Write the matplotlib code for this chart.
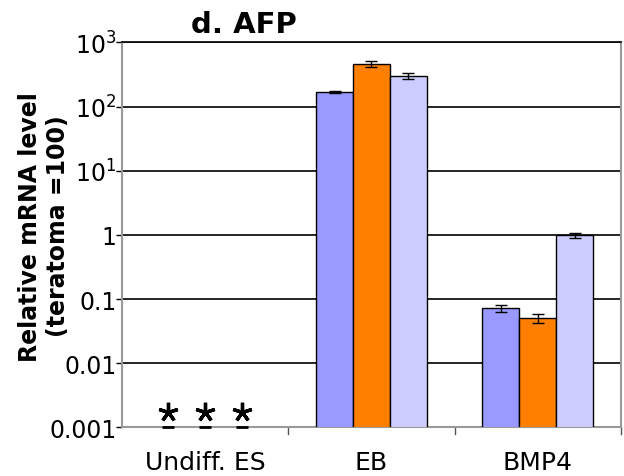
import numpy as np
import matplotlib
matplotlib.use("Agg")
import matplotlib.pyplot as plt

categories = ["Undiff. ES", "EB", "BMP4"]
series_names = ["s1", "s2", "s3"]
values_s1 = [np.nan, 167, 0.072]
values_s2 = [np.nan, 457, 0.051]
values_s3 = [np.nan, 303, 0.98]
errors_s1 = [0, 6, 0.01]
errors_s2 = [0, 50, 0.008]
errors_s3 = [0, 30, 0.1]
not_detected = [True, False, False]
colors = ["#9999FF", "#FF8000", "#CCCCFF"]
ytick_vals = [0.001, 0.01, 0.1, 1, 10, 100, 1000]
ytick_labels = ["0.001", "0.01", "0.1", "1", "$10^1$", "$10^2$", "$10^3$"]

plt.rcParams['font.family'] = ['DejaVu Sans']
plt.rcParams['mathtext.fontset'] = 'dejavusans'
fig = plt.figure(figsize=(6.24, 4.77), dpi=100)
ax = fig.add_axes([0.1955, 0.102, 0.7995, 0.807])

x = np.arange(len(categories))
w = 0.222
vals = [values_s1, values_s2, values_s3]
errs = [errors_s1, errors_s2, errors_s3]
for i in range(3):
    xi = x + (i - 1) * w
    ax.bar(xi, vals[i], width=w, color=colors[i], edgecolor="black", linewidth=1.0, zorder=3)
    ax.errorbar(xi, vals[i], yerr=errs[i], fmt="none", ecolor="black", elinewidth=1.0,
                capsize=4, capthick=1.0, zorder=4)
    for j, nd in enumerate(not_detected):
        if nd:
            ax.plot([xi[j]], [0.001 * 10**0.24], marker=(5, 2, 0), markersize=14,
                    color="black", markeredgewidth=2.4, linestyle="none", zorder=5)
            ax.plot([xi[j]], [0.001], marker="_", markersize=9, color="black",
                    markeredgewidth=2, zorder=5, clip_on=False)

ax.set_yscale("log")
ax.set_ylim(0.001, 1000)
ax.set_xlim(-0.5, 2.5)
ax.set_yticks(ytick_vals)
ax.set_yticklabels(ytick_labels, fontsize=17)
ax.yaxis.set_minor_locator(matplotlib.ticker.NullLocator())
ax.tick_params(axis="y", length=4, width=1, color="black", pad=0)
ax.set_xticks(x)
ax.set_xticklabels(categories, fontsize=18)
ax.tick_params(axis="x", length=0, pad=16)
for b in [0.5, 1.5, 2.5]:
    ax.plot([b, b], [0.001, 0.001 * 10**-0.1], color="#555555", lw=1, clip_on=False)
ax.grid(axis="y", color="black", linewidth=1.2, zorder=1)
for s in ["left", "right", "bottom"]:
    ax.spines[s].set_color("#999999")
    ax.spines[s].set_linewidth(1.5)
ax.spines["top"].set_color("black")
ax.spines["top"].set_linewidth(1.2)

fig.text(0.0705, 0.525, "Relative mRNA level\n(teratoma =100)", rotation=90,
         ha="center", va="center", fontsize=17, fontweight="bold", linespacing=1.25,
         multialignment="center")
fig.text(0.391, 0.948, "d. AFP", ha="center", va="center", fontsize=21, fontweight="bold")

fig.savefig("out.png", dpi=100)
